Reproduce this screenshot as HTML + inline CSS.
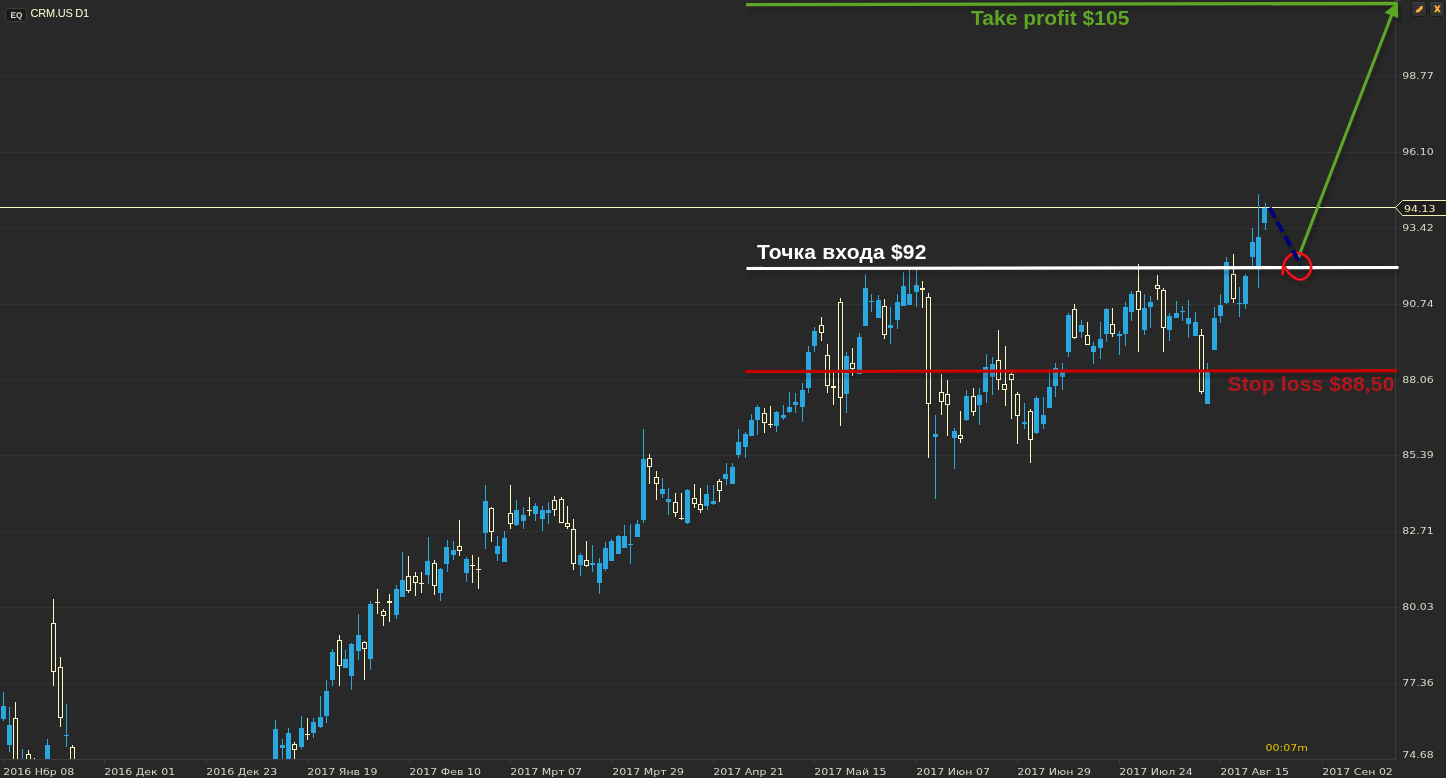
<!DOCTYPE html>
<html lang="ru"><head><meta charset="utf-8"><title>CRM.US D1</title>
<style>
html,body{margin:0;padding:0;background:#282828;}
body{width:1446px;height:778px;overflow:hidden;position:relative;}
svg{position:absolute;left:0;top:0;display:block;}
.ax{font-family:"DejaVu Sans","Liberation Sans",sans-serif;font-size:11px;fill:#d6d6c4;}
.ann{font-family:"Liberation Sans",sans-serif;font-weight:bold;}
</style></head><body>
<svg width="1446" height="778" viewBox="0 0 1446 778">
<defs><clipPath id="plot"><rect x="0" y="0" width="1395" height="759"/></clipPath>
<filter id="sh" x="-2%" y="-2%" width="104%" height="106%" filterUnits="objectBoundingBox"><feDropShadow dx="3" dy="5" stdDeviation="1.4" flood-color="#000" flood-opacity="0.22"/></filter></defs>
<rect x="0" y="0" width="1446" height="778" fill="#282828"/>
<g shape-rendering="crispEdges">
<rect x="0" y="76" width="1401" height="1" fill="#333333"/>
<rect x="0" y="152" width="1401" height="1" fill="#333333"/>
<rect x="0" y="228" width="1401" height="1" fill="#333333"/>
<rect x="0" y="304" width="1401" height="1" fill="#333333"/>
<rect x="0" y="380" width="1401" height="1" fill="#333333"/>
<rect x="0" y="455" width="1401" height="1" fill="#333333"/>
<rect x="0" y="531" width="1401" height="1" fill="#333333"/>
<rect x="0" y="607" width="1401" height="1" fill="#333333"/>
<rect x="0" y="683" width="1401" height="1" fill="#333333"/>
<rect x="1395" y="0" width="1" height="760" fill="#3b3b3b"/>
<rect x="0" y="759" width="1396" height="1" fill="#3b3b3b"/>
<rect x="1395" y="0" width="6" height="1" fill="#454545"/>
<rect x="3" y="760" width="1" height="5" fill="#3b3b3b"/>
<rect x="104" y="760" width="1" height="5" fill="#3b3b3b"/>
<rect x="206" y="760" width="1" height="5" fill="#3b3b3b"/>
<rect x="307" y="760" width="1" height="5" fill="#3b3b3b"/>
<rect x="409" y="760" width="1" height="5" fill="#3b3b3b"/>
<rect x="510" y="760" width="1" height="5" fill="#3b3b3b"/>
<rect x="612" y="760" width="1" height="5" fill="#3b3b3b"/>
<rect x="713" y="760" width="1" height="5" fill="#3b3b3b"/>
<rect x="814" y="760" width="1" height="5" fill="#3b3b3b"/>
<rect x="916" y="760" width="1" height="5" fill="#3b3b3b"/>
<rect x="1017" y="760" width="1" height="5" fill="#3b3b3b"/>
<rect x="1119" y="760" width="1" height="5" fill="#3b3b3b"/>
<rect x="1220" y="760" width="1" height="5" fill="#3b3b3b"/>
<rect x="1322" y="760" width="1" height="5" fill="#3b3b3b"/>
</g>
<rect x="0" y="207" width="1396" height="1" fill="#fbf7c3" shape-rendering="crispEdges"/>
<g clip-path="url(#plot)" shape-rendering="crispEdges">
<rect x="3" y="692" width="1" height="29" fill="#2ba7df"/><rect x="1" y="706" width="5" height="13" fill="#2ba7df"/>
<rect x="9" y="707" width="1" height="45" fill="#2ba7df"/><rect x="7" y="725" width="5" height="20" fill="#2ba7df"/>
<rect x="15" y="702" width="1" height="16" fill="#fbf7c3"/><rect x="13.5" y="718.5" width="4" height="56" fill="none" stroke="#fbf7c3" stroke-width="1"/>
<rect x="22" y="749" width="1" height="31" fill="#2ba7df"/><rect x="20" y="770" width="5" height="10" fill="#2ba7df"/>
<rect x="28" y="750" width="1" height="4" fill="#fbf7c3"/><rect x="26.5" y="754.5" width="4" height="20" fill="none" stroke="#fbf7c3" stroke-width="1"/>
<rect x="34" y="758" width="1" height="12" fill="#fbf7c3"/><rect x="32.5" y="770.5" width="4" height="4" fill="none" stroke="#fbf7c3" stroke-width="1"/>
<rect x="47" y="739" width="1" height="36" fill="#2ba7df"/><rect x="45" y="745" width="5" height="30" fill="#2ba7df"/>
<rect x="53" y="599" width="1" height="24" fill="#fbf7c3"/><rect x="53" y="672" width="1" height="14" fill="#fbf7c3"/><rect x="51.5" y="623.5" width="4" height="48" fill="none" stroke="#fbf7c3" stroke-width="1"/>
<rect x="60" y="657" width="1" height="10" fill="#fbf7c3"/><rect x="60" y="718" width="1" height="9" fill="#fbf7c3"/><rect x="58.5" y="667.5" width="4" height="50" fill="none" stroke="#fbf7c3" stroke-width="1"/>
<rect x="66" y="704" width="1" height="43" fill="#2ba7df"/><rect x="64" y="735" width="5" height="1" fill="#2ba7df"/>
<rect x="72" y="745" width="1" height="2" fill="#fbf7c3"/><rect x="70.5" y="747.5" width="4" height="27" fill="none" stroke="#fbf7c3" stroke-width="1"/>
<rect x="275" y="720" width="1" height="55" fill="#2ba7df"/><rect x="273" y="729" width="5" height="46" fill="#2ba7df"/>
<rect x="282" y="739" width="1" height="20" fill="#2ba7df"/><rect x="280" y="745" width="5" height="3" fill="#2ba7df"/>
<rect x="288" y="728" width="1" height="31" fill="#2ba7df"/><rect x="286" y="733" width="5" height="26" fill="#2ba7df"/>
<rect x="294" y="742" width="1" height="2" fill="#fbf7c3"/><rect x="294" y="750" width="1" height="9" fill="#fbf7c3"/><rect x="292.5" y="744.5" width="4" height="5" fill="none" stroke="#fbf7c3" stroke-width="1"/>
<rect x="301" y="716" width="1" height="33" fill="#2ba7df"/><rect x="299" y="728" width="5" height="19" fill="#2ba7df"/>
<rect x="307" y="718" width="1" height="22" fill="#fbf7c3"/><rect x="305" y="734" width="5" height="1" fill="#fbf7c3"/>
<rect x="313" y="718" width="1" height="20" fill="#2ba7df"/><rect x="311" y="722" width="5" height="11" fill="#2ba7df"/>
<rect x="320" y="696" width="1" height="32" fill="#2ba7df"/><rect x="318" y="717" width="5" height="10" fill="#2ba7df"/>
<rect x="326" y="680" width="1" height="43" fill="#2ba7df"/><rect x="324" y="691" width="5" height="25" fill="#2ba7df"/>
<rect x="332" y="649" width="1" height="37" fill="#2ba7df"/><rect x="330" y="652" width="5" height="28" fill="#2ba7df"/>
<rect x="339" y="635" width="1" height="5" fill="#fbf7c3"/><rect x="339" y="666" width="1" height="20" fill="#fbf7c3"/><rect x="337.5" y="640.5" width="4" height="25" fill="none" stroke="#fbf7c3" stroke-width="1"/>
<rect x="345" y="650" width="1" height="18" fill="#2ba7df"/><rect x="343" y="659" width="5" height="9" fill="#2ba7df"/>
<rect x="351" y="643" width="1" height="47" fill="#2ba7df"/><rect x="349" y="644" width="5" height="32" fill="#2ba7df"/>
<rect x="358" y="614" width="1" height="46" fill="#2ba7df"/><rect x="356" y="635" width="5" height="16" fill="#2ba7df"/>
<rect x="364" y="641" width="1" height="1" fill="#fbf7c3"/><rect x="364" y="649" width="1" height="31" fill="#fbf7c3"/><rect x="362.5" y="642.5" width="4" height="6" fill="none" stroke="#fbf7c3" stroke-width="1"/>
<rect x="370" y="601" width="1" height="69" fill="#2ba7df"/><rect x="368" y="604" width="5" height="55" fill="#2ba7df"/>
<rect x="377" y="589" width="1" height="25" fill="#fbf7c3"/><rect x="375" y="602" width="5" height="1" fill="#fbf7c3"/>
<rect x="383" y="609" width="1" height="2" fill="#fbf7c3"/><rect x="383" y="616" width="1" height="10" fill="#fbf7c3"/><rect x="381.5" y="611.5" width="4" height="4" fill="none" stroke="#fbf7c3" stroke-width="1"/>
<rect x="389" y="594" width="1" height="28" fill="#fbf7c3"/><rect x="387" y="601" width="5" height="2" fill="#fbf7c3"/>
<rect x="396" y="585" width="1" height="34" fill="#2ba7df"/><rect x="394" y="589" width="5" height="26" fill="#2ba7df"/>
<rect x="402" y="552" width="1" height="45" fill="#2ba7df"/><rect x="400" y="580" width="5" height="17" fill="#2ba7df"/>
<rect x="408" y="556" width="1" height="20" fill="#fbf7c3"/><rect x="408" y="591" width="1" height="2" fill="#fbf7c3"/><rect x="406.5" y="576.5" width="4" height="14" fill="none" stroke="#fbf7c3" stroke-width="1"/>
<rect x="415" y="572" width="1" height="4" fill="#fbf7c3"/><rect x="415" y="583" width="1" height="13" fill="#fbf7c3"/><rect x="413.5" y="576.5" width="4" height="6" fill="none" stroke="#fbf7c3" stroke-width="1"/>
<rect x="421" y="572" width="1" height="21" fill="#fbf7c3"/><rect x="419" y="583" width="5" height="1" fill="#fbf7c3"/>
<rect x="428" y="537" width="1" height="47" fill="#2ba7df"/><rect x="425" y="561" width="5" height="14" fill="#2ba7df"/>
<rect x="434" y="560" width="1" height="3" fill="#fbf7c3"/><rect x="434" y="586" width="1" height="9" fill="#fbf7c3"/><rect x="432.5" y="563.5" width="4" height="22" fill="none" stroke="#fbf7c3" stroke-width="1"/>
<rect x="440" y="568" width="1" height="33" fill="#2ba7df"/><rect x="438" y="569" width="5" height="24" fill="#2ba7df"/>
<rect x="447" y="540" width="1" height="32" fill="#2ba7df"/><rect x="444" y="547" width="5" height="17" fill="#2ba7df"/>
<rect x="453" y="541" width="1" height="19" fill="#2ba7df"/><rect x="451" y="550" width="5" height="5" fill="#2ba7df"/>
<rect x="459" y="520" width="1" height="26" fill="#fbf7c3"/><rect x="459" y="551" width="1" height="5" fill="#fbf7c3"/><rect x="457.5" y="546.5" width="4" height="4" fill="none" stroke="#fbf7c3" stroke-width="1"/>
<rect x="466" y="557" width="1" height="25" fill="#2ba7df"/><rect x="464" y="559" width="5" height="14" fill="#2ba7df"/>
<rect x="472" y="555" width="1" height="28" fill="#fbf7c3"/><rect x="470" y="565" width="5" height="1" fill="#fbf7c3"/>
<rect x="478" y="557" width="1" height="32" fill="#fbf7c3"/><rect x="476" y="569" width="5" height="1" fill="#fbf7c3"/>
<rect x="485" y="485" width="1" height="64" fill="#2ba7df"/><rect x="483" y="501" width="5" height="32" fill="#2ba7df"/>
<rect x="491" y="507" width="1" height="1" fill="#fbf7c3"/><rect x="491" y="532" width="1" height="10" fill="#fbf7c3"/><rect x="489.5" y="508.5" width="4" height="23" fill="none" stroke="#fbf7c3" stroke-width="1"/>
<rect x="497" y="536" width="1" height="25" fill="#2ba7df"/><rect x="495" y="546" width="5" height="8" fill="#2ba7df"/>
<rect x="504" y="531" width="1" height="31" fill="#2ba7df"/><rect x="502" y="538" width="5" height="24" fill="#2ba7df"/>
<rect x="510" y="485" width="1" height="28" fill="#fbf7c3"/><rect x="510" y="524" width="1" height="5" fill="#fbf7c3"/><rect x="508.5" y="513.5" width="4" height="10" fill="none" stroke="#fbf7c3" stroke-width="1"/>
<rect x="516" y="500" width="1" height="26" fill="#2ba7df"/><rect x="514" y="510" width="5" height="15" fill="#2ba7df"/>
<rect x="523" y="507" width="1" height="22" fill="#2ba7df"/><rect x="521" y="515" width="5" height="6" fill="#2ba7df"/>
<rect x="529" y="497" width="1" height="19" fill="#fbf7c3"/><rect x="527" y="510" width="5" height="1" fill="#fbf7c3"/>
<rect x="535" y="503" width="1" height="18" fill="#2ba7df"/><rect x="533" y="506" width="5" height="8" fill="#2ba7df"/>
<rect x="542" y="506" width="1" height="25" fill="#2ba7df"/><rect x="540" y="510" width="5" height="9" fill="#2ba7df"/>
<rect x="548" y="502" width="1" height="22" fill="#2ba7df"/><rect x="546" y="510" width="5" height="3" fill="#2ba7df"/>
<rect x="554" y="496" width="1" height="4" fill="#fbf7c3"/><rect x="554" y="510" width="1" height="6" fill="#fbf7c3"/><rect x="552.5" y="500.5" width="4" height="9" fill="none" stroke="#fbf7c3" stroke-width="1"/>
<rect x="561" y="497" width="1" height="2" fill="#fbf7c3"/><rect x="559.5" y="499.5" width="4" height="23" fill="none" stroke="#fbf7c3" stroke-width="1"/>
<rect x="567" y="506" width="1" height="17" fill="#fbf7c3"/><rect x="567" y="527" width="1" height="2" fill="#fbf7c3"/><rect x="565.5" y="523.5" width="4" height="3" fill="none" stroke="#fbf7c3" stroke-width="1"/>
<rect x="573" y="519" width="1" height="10" fill="#fbf7c3"/><rect x="573" y="564" width="1" height="6" fill="#fbf7c3"/><rect x="571.5" y="529.5" width="4" height="34" fill="none" stroke="#fbf7c3" stroke-width="1"/>
<rect x="580" y="553" width="1" height="23" fill="#2ba7df"/><rect x="578" y="555" width="5" height="10" fill="#2ba7df"/>
<rect x="586" y="541" width="1" height="19" fill="#fbf7c3"/><rect x="586" y="566" width="1" height="1" fill="#fbf7c3"/><rect x="584.5" y="560.5" width="4" height="5" fill="none" stroke="#fbf7c3" stroke-width="1"/>
<rect x="592" y="545" width="1" height="27" fill="#2ba7df"/><rect x="590" y="563" width="5" height="2" fill="#2ba7df"/>
<rect x="599" y="558" width="1" height="36" fill="#2ba7df"/><rect x="597" y="563" width="5" height="20" fill="#2ba7df"/>
<rect x="605" y="542" width="1" height="29" fill="#2ba7df"/><rect x="603" y="548" width="5" height="21" fill="#2ba7df"/>
<rect x="611" y="539" width="1" height="22" fill="#2ba7df"/><rect x="609" y="541" width="5" height="20" fill="#2ba7df"/>
<rect x="618" y="535" width="1" height="19" fill="#2ba7df"/><rect x="616" y="536" width="5" height="18" fill="#2ba7df"/>
<rect x="624" y="525" width="1" height="23" fill="#2ba7df"/><rect x="622" y="536" width="5" height="12" fill="#2ba7df"/>
<rect x="630" y="524" width="1" height="40" fill="#2ba7df"/><rect x="628" y="544" width="5" height="1" fill="#2ba7df"/>
<rect x="637" y="520" width="1" height="17" fill="#2ba7df"/><rect x="635" y="524" width="5" height="13" fill="#2ba7df"/>
<rect x="643" y="429" width="1" height="94" fill="#2ba7df"/><rect x="641" y="459" width="5" height="61" fill="#2ba7df"/>
<rect x="649" y="454" width="1" height="4" fill="#fbf7c3"/><rect x="649" y="467" width="1" height="17" fill="#fbf7c3"/><rect x="647.5" y="458.5" width="4" height="8" fill="none" stroke="#fbf7c3" stroke-width="1"/>
<rect x="656" y="471" width="1" height="6" fill="#fbf7c3"/><rect x="656" y="484" width="1" height="16" fill="#fbf7c3"/><rect x="654.5" y="477.5" width="4" height="6" fill="none" stroke="#fbf7c3" stroke-width="1"/>
<rect x="662" y="478" width="1" height="20" fill="#2ba7df"/><rect x="660" y="489" width="5" height="5" fill="#2ba7df"/>
<rect x="668" y="488" width="1" height="27" fill="#2ba7df"/><rect x="666" y="499" width="5" height="3" fill="#2ba7df"/>
<rect x="675" y="493" width="1" height="9" fill="#fbf7c3"/><rect x="675" y="513" width="1" height="4" fill="#fbf7c3"/><rect x="673.5" y="502.5" width="4" height="10" fill="none" stroke="#fbf7c3" stroke-width="1"/>
<rect x="681" y="493" width="1" height="27" fill="#fbf7c3"/><rect x="679" y="518" width="5" height="1" fill="#fbf7c3"/>
<rect x="687" y="489" width="1" height="35" fill="#2ba7df"/><rect x="685" y="490" width="5" height="33" fill="#2ba7df"/>
<rect x="694" y="484" width="1" height="14" fill="#fbf7c3"/><rect x="694" y="504" width="1" height="4" fill="#fbf7c3"/><rect x="692.5" y="498.5" width="4" height="5" fill="none" stroke="#fbf7c3" stroke-width="1"/>
<rect x="700" y="488" width="1" height="16" fill="#fbf7c3"/><rect x="700" y="510" width="1" height="3" fill="#fbf7c3"/><rect x="698.5" y="504.5" width="4" height="5" fill="none" stroke="#fbf7c3" stroke-width="1"/>
<rect x="707" y="485" width="1" height="25" fill="#2ba7df"/><rect x="704" y="494" width="5" height="12" fill="#2ba7df"/>
<rect x="713" y="485" width="1" height="20" fill="#2ba7df"/><rect x="711" y="501" width="5" height="3" fill="#2ba7df"/>
<rect x="719" y="479" width="1" height="2" fill="#fbf7c3"/><rect x="719" y="491" width="1" height="11" fill="#fbf7c3"/><rect x="717.5" y="481.5" width="4" height="9" fill="none" stroke="#fbf7c3" stroke-width="1"/>
<rect x="726" y="463" width="1" height="22" fill="#2ba7df"/><rect x="723" y="474" width="5" height="5" fill="#2ba7df"/>
<rect x="732" y="463" width="1" height="21" fill="#2ba7df"/><rect x="730" y="467" width="5" height="17" fill="#2ba7df"/>
<rect x="738" y="429" width="1" height="29" fill="#2ba7df"/><rect x="736" y="442" width="5" height="13" fill="#2ba7df"/>
<rect x="745" y="432" width="1" height="26" fill="#2ba7df"/><rect x="743" y="434" width="5" height="13" fill="#2ba7df"/>
<rect x="751" y="414" width="1" height="22" fill="#2ba7df"/><rect x="749" y="420" width="5" height="16" fill="#2ba7df"/>
<rect x="757" y="405" width="1" height="30" fill="#2ba7df"/><rect x="755" y="407" width="5" height="13" fill="#2ba7df"/>
<rect x="764" y="408" width="1" height="5" fill="#fbf7c3"/><rect x="764" y="423" width="1" height="10" fill="#fbf7c3"/><rect x="762.5" y="413.5" width="4" height="9" fill="none" stroke="#fbf7c3" stroke-width="1"/>
<rect x="770" y="406" width="1" height="22" fill="#fbf7c3"/><rect x="768" y="424" width="5" height="1" fill="#fbf7c3"/>
<rect x="776" y="411" width="1" height="21" fill="#2ba7df"/><rect x="774" y="412" width="5" height="14" fill="#2ba7df"/>
<rect x="783" y="405" width="1" height="15" fill="#2ba7df"/><rect x="781" y="415" width="5" height="3" fill="#2ba7df"/>
<rect x="789" y="392" width="1" height="21" fill="#2ba7df"/><rect x="787" y="407" width="5" height="5" fill="#2ba7df"/>
<rect x="795" y="393" width="1" height="20" fill="#2ba7df"/><rect x="793" y="402" width="5" height="3" fill="#2ba7df"/>
<rect x="802" y="383" width="1" height="39" fill="#2ba7df"/><rect x="800" y="390" width="5" height="17" fill="#2ba7df"/>
<rect x="808" y="346" width="1" height="47" fill="#2ba7df"/><rect x="806" y="352" width="5" height="36" fill="#2ba7df"/>
<rect x="814" y="327" width="1" height="25" fill="#2ba7df"/><rect x="812" y="331" width="5" height="15" fill="#2ba7df"/>
<rect x="821" y="317" width="1" height="8" fill="#fbf7c3"/><rect x="821" y="333" width="1" height="8" fill="#fbf7c3"/><rect x="819.5" y="325.5" width="4" height="7" fill="none" stroke="#fbf7c3" stroke-width="1"/>
<rect x="827" y="344" width="1" height="11" fill="#fbf7c3"/><rect x="827" y="386" width="1" height="7" fill="#fbf7c3"/><rect x="825.5" y="355.5" width="4" height="30" fill="none" stroke="#fbf7c3" stroke-width="1"/>
<rect x="833" y="372" width="1" height="33" fill="#fbf7c3"/><rect x="831" y="386" width="5" height="2" fill="#fbf7c3"/>
<rect x="840" y="298" width="1" height="4" fill="#fbf7c3"/><rect x="840" y="398" width="1" height="28" fill="#fbf7c3"/><rect x="838.5" y="302.5" width="4" height="95" fill="none" stroke="#fbf7c3" stroke-width="1"/>
<rect x="846" y="352" width="1" height="61" fill="#2ba7df"/><rect x="844" y="356" width="5" height="38" fill="#2ba7df"/>
<rect x="852" y="348" width="1" height="15" fill="#fbf7c3"/><rect x="852" y="369" width="1" height="7" fill="#fbf7c3"/><rect x="850.5" y="363.5" width="4" height="5" fill="none" stroke="#fbf7c3" stroke-width="1"/>
<rect x="859" y="333" width="1" height="41" fill="#2ba7df"/><rect x="857" y="337" width="5" height="37" fill="#2ba7df"/>
<rect x="865" y="274" width="1" height="52" fill="#2ba7df"/><rect x="863" y="288" width="5" height="38" fill="#2ba7df"/>
<rect x="871" y="294" width="1" height="18" fill="#2ba7df"/><rect x="869" y="301" width="5" height="1" fill="#2ba7df"/>
<rect x="878" y="295" width="1" height="23" fill="#2ba7df"/><rect x="876" y="300" width="5" height="18" fill="#2ba7df"/>
<rect x="884" y="299" width="1" height="7" fill="#fbf7c3"/><rect x="884" y="335" width="1" height="4" fill="#fbf7c3"/><rect x="882.5" y="306.5" width="4" height="28" fill="none" stroke="#fbf7c3" stroke-width="1"/>
<rect x="890" y="307" width="1" height="37" fill="#2ba7df"/><rect x="888" y="325" width="5" height="3" fill="#2ba7df"/>
<rect x="897" y="294" width="1" height="35" fill="#2ba7df"/><rect x="895" y="302" width="5" height="18" fill="#2ba7df"/>
<rect x="903" y="272" width="1" height="34" fill="#2ba7df"/><rect x="901" y="286" width="5" height="20" fill="#2ba7df"/>
<rect x="909" y="270" width="1" height="35" fill="#2ba7df"/><rect x="907" y="294" width="5" height="11" fill="#2ba7df"/>
<rect x="916" y="270" width="1" height="37" fill="#2ba7df"/><rect x="914" y="285" width="5" height="7" fill="#2ba7df"/>
<rect x="922" y="281" width="1" height="27" fill="#fbf7c3"/><rect x="920" y="288" width="5" height="2" fill="#fbf7c3"/>
<rect x="928" y="293" width="1" height="4" fill="#fbf7c3"/><rect x="928" y="404" width="1" height="54" fill="#fbf7c3"/><rect x="926.5" y="297.5" width="4" height="106" fill="none" stroke="#fbf7c3" stroke-width="1"/>
<rect x="935" y="415" width="1" height="84" fill="#2ba7df"/><rect x="933" y="434" width="5" height="3" fill="#2ba7df"/>
<rect x="941" y="374" width="1" height="18" fill="#fbf7c3"/><rect x="941" y="402" width="1" height="13" fill="#fbf7c3"/><rect x="939.5" y="392.5" width="4" height="9" fill="none" stroke="#fbf7c3" stroke-width="1"/>
<rect x="947" y="380" width="1" height="14" fill="#fbf7c3"/><rect x="947" y="405" width="1" height="31" fill="#fbf7c3"/><rect x="945.5" y="394.5" width="4" height="10" fill="none" stroke="#fbf7c3" stroke-width="1"/>
<rect x="954" y="428" width="1" height="41" fill="#2ba7df"/><rect x="952" y="431" width="5" height="7" fill="#2ba7df"/>
<rect x="960" y="411" width="1" height="24" fill="#fbf7c3"/><rect x="960" y="439" width="1" height="4" fill="#fbf7c3"/><rect x="958.5" y="435.5" width="4" height="3" fill="none" stroke="#fbf7c3" stroke-width="1"/>
<rect x="966" y="390" width="1" height="31" fill="#2ba7df"/><rect x="964" y="396" width="5" height="24" fill="#2ba7df"/>
<rect x="973" y="388" width="1" height="8" fill="#fbf7c3"/><rect x="973" y="412" width="1" height="4" fill="#fbf7c3"/><rect x="971.5" y="396.5" width="4" height="15" fill="none" stroke="#fbf7c3" stroke-width="1"/>
<rect x="979" y="388" width="1" height="37" fill="#2ba7df"/><rect x="977" y="395" width="5" height="10" fill="#2ba7df"/>
<rect x="986" y="354" width="1" height="49" fill="#2ba7df"/><rect x="983" y="367" width="5" height="25" fill="#2ba7df"/>
<rect x="992" y="357" width="1" height="38" fill="#2ba7df"/><rect x="990" y="364" width="5" height="13" fill="#2ba7df"/>
<rect x="998" y="330" width="1" height="30" fill="#fbf7c3"/><rect x="998" y="380" width="1" height="10" fill="#fbf7c3"/><rect x="996.5" y="360.5" width="4" height="19" fill="none" stroke="#fbf7c3" stroke-width="1"/>
<rect x="1005" y="346" width="1" height="38" fill="#fbf7c3"/><rect x="1005" y="390" width="1" height="16" fill="#fbf7c3"/><rect x="1002.5" y="384.5" width="4" height="5" fill="none" stroke="#fbf7c3" stroke-width="1"/>
<rect x="1011" y="372" width="1" height="2" fill="#fbf7c3"/><rect x="1011" y="380" width="1" height="39" fill="#fbf7c3"/><rect x="1009.5" y="374.5" width="4" height="5" fill="none" stroke="#fbf7c3" stroke-width="1"/>
<rect x="1017" y="392" width="1" height="2" fill="#fbf7c3"/><rect x="1017" y="416" width="1" height="28" fill="#fbf7c3"/><rect x="1015.5" y="394.5" width="4" height="21" fill="none" stroke="#fbf7c3" stroke-width="1"/>
<rect x="1024" y="403" width="1" height="26" fill="#2ba7df"/><rect x="1022" y="422" width="5" height="2" fill="#2ba7df"/>
<rect x="1030" y="409" width="1" height="2" fill="#fbf7c3"/><rect x="1030" y="440" width="1" height="23" fill="#fbf7c3"/><rect x="1028.5" y="411.5" width="4" height="28" fill="none" stroke="#fbf7c3" stroke-width="1"/>
<rect x="1036" y="396" width="1" height="38" fill="#2ba7df"/><rect x="1034" y="398" width="5" height="35" fill="#2ba7df"/>
<rect x="1043" y="397" width="1" height="32" fill="#2ba7df"/><rect x="1041" y="415" width="5" height="9" fill="#2ba7df"/>
<rect x="1049" y="369" width="1" height="39" fill="#2ba7df"/><rect x="1047" y="387" width="5" height="21" fill="#2ba7df"/>
<rect x="1055" y="363" width="1" height="34" fill="#2ba7df"/><rect x="1053" y="368" width="5" height="18" fill="#2ba7df"/>
<rect x="1062" y="363" width="1" height="27" fill="#2ba7df"/><rect x="1060" y="372" width="5" height="5" fill="#2ba7df"/>
<rect x="1068" y="313" width="1" height="44" fill="#2ba7df"/><rect x="1066" y="315" width="5" height="37" fill="#2ba7df"/>
<rect x="1074" y="304" width="1" height="5" fill="#fbf7c3"/><rect x="1074" y="338" width="1" height="1" fill="#fbf7c3"/><rect x="1072.5" y="309.5" width="4" height="28" fill="none" stroke="#fbf7c3" stroke-width="1"/>
<rect x="1081" y="320" width="1" height="18" fill="#2ba7df"/><rect x="1079" y="325" width="5" height="7" fill="#2ba7df"/>
<rect x="1087" y="322" width="1" height="13" fill="#fbf7c3"/><rect x="1085.5" y="335.5" width="4" height="9" fill="none" stroke="#fbf7c3" stroke-width="1"/>
<rect x="1093" y="342" width="1" height="22" fill="#2ba7df"/><rect x="1091" y="346" width="5" height="6" fill="#2ba7df"/>
<rect x="1100" y="322" width="1" height="37" fill="#2ba7df"/><rect x="1098" y="339" width="5" height="9" fill="#2ba7df"/>
<rect x="1106" y="308" width="1" height="34" fill="#2ba7df"/><rect x="1104" y="309" width="5" height="25" fill="#2ba7df"/>
<rect x="1112" y="308" width="1" height="16" fill="#fbf7c3"/><rect x="1112" y="334" width="1" height="3" fill="#fbf7c3"/><rect x="1110.5" y="324.5" width="4" height="9" fill="none" stroke="#fbf7c3" stroke-width="1"/>
<rect x="1119" y="331" width="1" height="24" fill="#2ba7df"/><rect x="1117" y="334" width="5" height="2" fill="#2ba7df"/>
<rect x="1125" y="302" width="1" height="44" fill="#2ba7df"/><rect x="1123" y="307" width="5" height="27" fill="#2ba7df"/>
<rect x="1131" y="291" width="1" height="30" fill="#2ba7df"/><rect x="1129" y="294" width="5" height="18" fill="#2ba7df"/>
<rect x="1138" y="264" width="1" height="27" fill="#fbf7c3"/><rect x="1138" y="310" width="1" height="42" fill="#fbf7c3"/><rect x="1136.5" y="291.5" width="4" height="18" fill="none" stroke="#fbf7c3" stroke-width="1"/>
<rect x="1144" y="294" width="1" height="41" fill="#2ba7df"/><rect x="1142" y="308" width="5" height="22" fill="#2ba7df"/>
<rect x="1150" y="296" width="1" height="32" fill="#2ba7df"/><rect x="1148" y="302" width="5" height="5" fill="#2ba7df"/>
<rect x="1157" y="275" width="1" height="10" fill="#fbf7c3"/><rect x="1157" y="289" width="1" height="11" fill="#fbf7c3"/><rect x="1155.5" y="285.5" width="4" height="3" fill="none" stroke="#fbf7c3" stroke-width="1"/>
<rect x="1163" y="288" width="1" height="2" fill="#fbf7c3"/><rect x="1163" y="328" width="1" height="24" fill="#fbf7c3"/><rect x="1161.5" y="290.5" width="4" height="37" fill="none" stroke="#fbf7c3" stroke-width="1"/>
<rect x="1169" y="313" width="1" height="28" fill="#2ba7df"/><rect x="1167" y="316" width="5" height="14" fill="#2ba7df"/>
<rect x="1176" y="301" width="1" height="17" fill="#2ba7df"/><rect x="1174" y="313" width="5" height="5" fill="#2ba7df"/>
<rect x="1182" y="306" width="1" height="15" fill="#2ba7df"/><rect x="1180" y="311" width="5" height="1" fill="#2ba7df"/>
<rect x="1188" y="300" width="1" height="38" fill="#2ba7df"/><rect x="1186" y="318" width="5" height="6" fill="#2ba7df"/>
<rect x="1195" y="312" width="1" height="24" fill="#2ba7df"/><rect x="1193" y="322" width="5" height="14" fill="#2ba7df"/>
<rect x="1201" y="329" width="1" height="6" fill="#fbf7c3"/><rect x="1201" y="392" width="1" height="2" fill="#fbf7c3"/><rect x="1199.5" y="335.5" width="4" height="56" fill="none" stroke="#fbf7c3" stroke-width="1"/>
<rect x="1207" y="363" width="1" height="41" fill="#2ba7df"/><rect x="1205" y="372" width="5" height="32" fill="#2ba7df"/>
<rect x="1214" y="307" width="1" height="43" fill="#2ba7df"/><rect x="1212" y="318" width="5" height="32" fill="#2ba7df"/>
<rect x="1220" y="294" width="1" height="29" fill="#2ba7df"/><rect x="1218" y="305" width="5" height="11" fill="#2ba7df"/>
<rect x="1226" y="257" width="1" height="47" fill="#2ba7df"/><rect x="1224" y="262" width="5" height="41" fill="#2ba7df"/>
<rect x="1233" y="254" width="1" height="20" fill="#fbf7c3"/><rect x="1233" y="299" width="1" height="4" fill="#fbf7c3"/><rect x="1231.5" y="274.5" width="4" height="24" fill="none" stroke="#fbf7c3" stroke-width="1"/>
<rect x="1239" y="287" width="1" height="30" fill="#2ba7df"/><rect x="1237" y="303" width="5" height="1" fill="#2ba7df"/>
<rect x="1245" y="274" width="1" height="35" fill="#2ba7df"/><rect x="1243" y="276" width="5" height="28" fill="#2ba7df"/>
<rect x="1252" y="228" width="1" height="38" fill="#2ba7df"/><rect x="1250" y="242" width="5" height="15" fill="#2ba7df"/>
<rect x="1258" y="194" width="1" height="94" fill="#2ba7df"/><rect x="1256" y="237" width="5" height="29" fill="#2ba7df"/>
<rect x="1265" y="203" width="1" height="27" fill="#2ba7df"/><rect x="1262" y="208" width="5" height="15" fill="#2ba7df"/>
</g>
<g filter="url(#sh)">
<line x1="745" y1="371.5" x2="1397" y2="370.6" stroke="#c80000" stroke-width="3.2"/>
<line x1="746.5" y1="268.5" x2="1398.5" y2="267.5" stroke="#ffffff" stroke-width="3.2"/>
<line x1="746" y1="4.6" x2="1397.5" y2="3.5" stroke="#5ea626" stroke-width="3.3"/>
<line x1="1298" y1="258.2" x2="1391.7" y2="15" stroke="#5ea626" stroke-width="3.05"/>
<polygon points="1397.8,2 1384.6,12.7 1398.2,18.1" fill="#5ea626"/>
<path d="M1282.6,274.2 C1282.7,272.8 1282.7,268.1 1283.4,265.5 C1284.1,262.9 1285.1,260.2 1286.6,258.3 C1288.1,256.4 1290.3,254.8 1292.4,253.9 C1294.5,253.0 1297.0,252.7 1299.3,253.1 C1301.6,253.5 1304.4,254.9 1306.2,256.4 C1308.0,257.9 1309.5,260.2 1310.3,262.2 C1311.1,264.1 1311.3,266.1 1311.1,268.1 C1310.9,270.1 1310.3,272.2 1309.1,274.0 C1307.9,275.8 1305.7,278.0 1303.9,278.9 C1302.1,279.8 1300.0,279.7 1298.1,279.3 C1296.2,278.9 1294.1,277.6 1292.4,276.4 C1290.7,275.1 1288.9,273.3 1287.7,271.8 C1286.5,270.3 1285.6,268.1 1285.2,267.4" fill="none" stroke="#e8000f" stroke-width="2.7" stroke-linecap="round" stroke-linejoin="round"/>
<path d="M1282.6,274.2 C1282.7,272.8 1282.7,268.1 1283.4,265.5 C1284.1,262.9 1285.1,260.2 1286.6,258.3 C1288.1,256.4 1290.3,254.8 1292.4,253.9 C1294.5,253.0 1297.0,252.7 1299.3,253.1 C1301.6,253.5 1304.4,254.9 1306.2,256.4 C1308.0,257.9 1309.5,260.2 1310.3,262.2 C1311.1,264.1 1311.3,266.1 1311.1,268.1 C1310.9,270.1 1310.3,272.2 1309.1,274.0 C1307.9,275.8 1305.7,278.0 1303.9,278.9 C1302.1,279.8 1300.0,279.7 1298.1,279.3 C1296.2,278.9 1294.1,277.6 1292.4,276.4 C1290.7,275.1 1288.9,273.3 1287.7,271.8 C1286.5,270.3 1285.6,268.1 1285.2,267.4" fill="none" stroke="#ff6a70" stroke-width="0.8" stroke-linecap="round" opacity="0.55"/>
<line x1="1269.6" y1="207.6" x2="1300.9" y2="265.3" stroke="#00007f" stroke-width="4" stroke-dasharray="11.3 4.9"/>
</g>
<text class="ann" x="971" y="25" font-size="21" fill="#5ea626">Take profit $105</text>
<text class="ann" x="757" y="258.7" font-size="21" letter-spacing="0.2" fill="#ffffff">Точка входа $92</text>
<text class="ann" x="1227.5" y="391" font-size="21" letter-spacing="0.15" fill="#b0161e">Stop loss $88,50</text>
<text class="ax" transform="translate(1402.3,79) scale(1,0.86)" >98.77</text>
<text class="ax" transform="translate(1402.3,155) scale(1,0.86)" >96.10</text>
<text class="ax" transform="translate(1402.3,231) scale(1,0.86)" >93.42</text>
<text class="ax" transform="translate(1402.3,307) scale(1,0.86)" >90.74</text>
<text class="ax" transform="translate(1402.3,383) scale(1,0.86)" >88.06</text>
<text class="ax" transform="translate(1402.3,458) scale(1,0.86)" >85.39</text>
<text class="ax" transform="translate(1402.3,534) scale(1,0.86)" >82.71</text>
<text class="ax" transform="translate(1402.3,610) scale(1,0.86)" >80.03</text>
<text class="ax" transform="translate(1402.3,686) scale(1,0.86)" >77.36</text>
<text class="ax" transform="translate(1402.3,758) scale(1,0.86)" >74.68</text>
<path d="M1395.5,207.5 L1402.5,200.5 H1447 V215.5 H1402.5 Z" fill="#1e1e1e" stroke="#f3efb4" stroke-width="1"/>
<text class="ax" transform="translate(1404,211.5) scale(1,0.86)" style="fill:#f6f2b8">94.13</text>
<text class="ax" transform="translate(3.3,775) scale(1,0.86)" >2016 Нбр 08</text>
<text class="ax" transform="translate(104.3,775) scale(1,0.86)" >2016 Дек 01</text>
<text class="ax" transform="translate(206.3,775) scale(1,0.86)" >2016 Дек 23</text>
<text class="ax" transform="translate(307.3,775) scale(1,0.86)" >2017 Янв 19</text>
<text class="ax" transform="translate(409.3,775) scale(1,0.86)" >2017 Фев 10</text>
<text class="ax" transform="translate(510.3,775) scale(1,0.86)" >2017 Мрт 07</text>
<text class="ax" transform="translate(612.3,775) scale(1,0.86)" >2017 Мрт 29</text>
<text class="ax" transform="translate(713.3,775) scale(1,0.86)" >2017 Апр 21</text>
<text class="ax" transform="translate(814.3,775) scale(1,0.86)" >2017 Май 15</text>
<text class="ax" transform="translate(916.3,775) scale(1,0.86)" >2017 Июн 07</text>
<text class="ax" transform="translate(1017.3,775) scale(1,0.86)" >2017 Июн 29</text>
<text class="ax" transform="translate(1119.3,775) scale(1,0.86)" >2017 Июл 24</text>
<text class="ax" transform="translate(1220.3,775) scale(1,0.86)" >2017 Авг 15</text>
<text class="ax" transform="translate(1322.3,775) scale(1,0.86)" >2017 Сен 02</text>
<text class="ax" transform="translate(1265.5,751) scale(1,0.86)" style="fill:#e6c200">00:07m</text>
<rect x="5.5" y="8.5" width="21" height="13" rx="2.5" fill="#1b1b1b" stroke="#3c3c3c" stroke-width="1"/>
<text x="10.6" y="17.6" font-family="'Liberation Sans',sans-serif" font-weight="bold" font-size="8.2" text-rendering="geometricPrecision" fill="#deded0">EQ</text>
<text x="30.6" y="17" font-family="'Liberation Sans',sans-serif" font-size="11" fill="#ffffd4" letter-spacing="-0.25">CRM.US D1</text>
<rect x="1411.5" y="1.5" width="15" height="15" rx="3" fill="#333333" stroke="#181818" stroke-width="1"/><path d="M1412.5,4.6 V4 Q1412.5,2.5 1414,2.5 H1424" fill="none" stroke="#434343" stroke-width="1"/>
<rect x="1429.5" y="1.5" width="15" height="15" rx="3" fill="#333333" stroke="#181818" stroke-width="1"/><path d="M1430.5,4.6 V4 Q1430.5,2.5 1432,2.5 H1442" fill="none" stroke="#434343" stroke-width="1"/>
<path d="M1415.6,11.3 L1417.7,8.8 L1418.8,8.8 L1420.1,6.5 L1422.9,5.7 L1422.5,8.7 L1420.9,10.4 L1420.1,10.4 L1419.8,12 L1416.1,12.5 Z" fill="#fbb136"/>
<path d="M1434,5.4 H1436.4 L1437.4,7.3 L1438.4,5.4 H1440.8 L1438.6,8.8 L1440.9,12.2 H1438.5 L1437.4,10.3 L1436.3,12.2 H1433.9 L1436.2,8.8 Z" fill="#fbb136"/>
</svg>
</body></html>
